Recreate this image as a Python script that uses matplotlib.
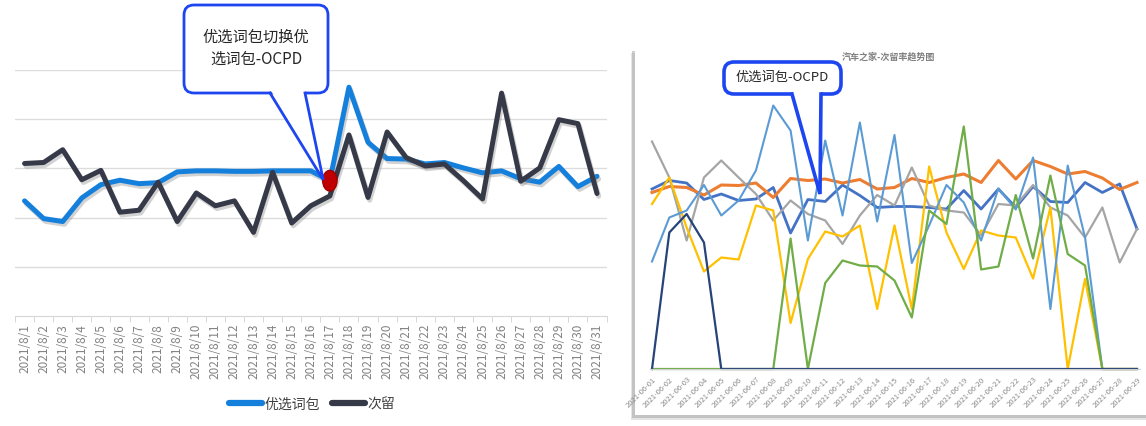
import matplotlib
matplotlib.use("Agg")
import matplotlib.pyplot as plt
from matplotlib.patches import FancyBboxPatch, Polygon, Ellipse, Rectangle
import matplotlib.patheffects as pe

plt.rcParams['font.family'] = ['Noto Sans CJK SC', 'DejaVu Sans']

# ---------------- data: left chart ----------------
left_dates = [f"2021/8/{d}" for d in range(1, 32)]
youxuan = [2.34, 1.98, 1.92, 2.40, 2.67, 2.76, 2.69, 2.71, 2.93, 2.95, 2.95, 2.94, 2.94,
           2.95, 2.95, 2.95, 2.75, 4.65, 3.53, 3.20, 3.19, 3.09, 3.12, 3.01, 2.91, 2.95,
           2.79, 2.72, 3.04, 2.63, 2.84]
ciliu = [3.10, 3.12, 3.38, 2.77, 2.96, 2.11, 2.15, 2.72, 1.92, 2.50, 2.24, 2.34, 1.70,
         2.92, 1.89, 2.24, 2.44, 3.68, 2.41, 3.74, 3.22, 3.05, 3.09, 2.75, 2.38, 4.53,
         2.74, 3.01, 3.99, 3.91, 2.49]
left_names = ["优选词包", "次留"]
switch_day = 16

# ---------------- data: right chart ----------------
right_dates = [f"2021-06-{d:02d}" for d in range(1, 30)]
s_blue = [36.0, 37.7, 37.2, 33.9, 35.0, 33.7, 34.0, 36.3, 27.2, 33.9, 33.5, 36.8, 34.7, 32.3,
          32.5, 32.5, 32.3, 32.0, 35.7, 32.0, 36.0, 32.3, 36.5, 33.5, 33.3, 37.3, 35.3, 37.0, 28.0]
s_orange = [35.3, 36.5, 36.3, 34.8, 36.8, 36.7, 37.2, 34.3, 38.1, 37.7, 38.0, 37.2, 37.9, 36.0,
            36.3, 38.1, 37.3, 38.3, 39.0, 37.3, 41.7, 38.0, 41.7, 40.5, 39.0, 39.5, 38.2, 35.9, 37.3]
s_gray = [45.5, 38.3, 25.7, 38.3, 41.7, 38.3, 35.0, 29.7, 33.7, 31.0, 29.7, 25.0, 30.7, 34.8,
          32.7, 40.3, 32.7, 31.7, 31.3, 26.7, 33.0, 32.7, 36.8, 32.3, 30.7, 26.3, 32.3, 21.3, 28.0]
s_yellow = [33.0, 38.3, 28.3, 19.5, 22.3, 21.9, 32.7, 31.7, 9.2, 22.0, 27.5, 26.5, 28.7, 12.0,
            28.7, 12.0, 40.5, 27.3, 20.0, 27.7, 26.7, 26.3, 18.1, 32.3, 0.0, 18.0, 0.0, 0.0, 0.0]
s_lightblue = [21.5, 30.3, 31.7, 36.8, 30.7, 33.7, 39.7, 52.7, 47.7, 25.7, 45.7, 30.7, 49.3, 29.5,
               46.8, 21.2, 28.7, 36.8, 33.3, 25.7, 36.1, 31.9, 42.3, 12.0, 40.7, 26.3, 0.0, 0.0, 0.0]
s_green = [0, 0, 0, 0, 0, 0, 0, 0, 26.1, 0, 17.2, 21.7, 20.7, 20.5, 17.7, 10.3, 31.7, 29.0,
           48.5, 19.9, 20.5, 34.8, 22.1, 38.7, 23.0, 20.7, 0, 0, 0]
s_navy = [0, 27.3, 31.0, 25.3] + [0] * 25

W, H = 1146, 427
fig = plt.figure(figsize=(W / 100, H / 100), dpi=100)
fig.patch.set_facecolor('white')


def fr(x0, y_top, x1, y_bot):
    return [x0 / W, 1 - y_bot / H, (x1 - x0) / W, (y_bot - y_top) / H]


# background overlay (panel of right chart with soft shadow on left and bottom)
ov_bg = fig.add_axes([0, 0, 1, 1], zorder=0)
ov_bg.set_xlim(0, W); ov_bg.set_ylim(H, 0); ov_bg.axis('off')
ov_bg.add_patch(Rectangle((630.5, 54), 520, 367, facecolor='#C4C4C4', edgecolor='none', alpha=0.45))
ov_bg.add_patch(Rectangle((631.5, 52), 520, 367, facecolor='#A8A8A8', edgecolor='none', alpha=0.55))
ov_bg.add_patch(Rectangle((634.5, 44), 520, 372, facecolor='white', edgecolor='none'))

# ---------------- left chart ----------------
dx = (597 - 24) / 30
ax1 = fig.add_axes(fr(24 - 0.47 * dx, 71, 597 + 0.52 * dx, 317), zorder=2)
ax1.set_facecolor('none')
xs = list(range(len(left_dates)))
shadow = [pe.SimpleLineShadow(offset=(1.2, -2.0), shadow_color='#808080', alpha=0.35), pe.Normal()]
ax1.plot(xs, youxuan, color='#1480DC', lw=3.6, solid_joinstyle='round', solid_capstyle='round',
         label=left_names[0], path_effects=shadow, zorder=3)
ax1.plot(xs, ciliu, color='#363A48', lw=3.6, solid_joinstyle='round', solid_capstyle='round',
         label=left_names[1], path_effects=shadow, zorder=4)
ax1.set_xlim(-0.47, 30.52)
ax1.set_ylim(0, 5)
ax1.set_yticks([1, 2, 3, 4, 5])
ax1.yaxis.grid(True, color='#DCDCDC', lw=1)
ax1.tick_params(axis='y', length=0, labelleft=False)
ax1.set_xticks(xs)
ax1.set_xticklabels(left_dates, rotation=90, fontsize=8.5, color='#828282')
ax1.set_xticks([i + 0.5 for i in range(-1, 31)], minor=True)
ax1.tick_params(axis='x', which='major', length=0, pad=5)
ax1.tick_params(axis='x', which='minor', length=4, color='#D0D0D0')
for s in ['top', 'right', 'left']:
    ax1.spines[s].set_visible(False)
ax1.spines['bottom'].set_color('#D6D6D6')
ax1.set_axisbelow(True)
# red marker at the switch day
ax1.add_patch(Ellipse((switch_day, youxuan[switch_day]), width=0.75, height=0.42,
                      facecolor='#C00000', edgecolor='#A00000', zorder=6))
leg = ax1.legend(loc='center', bbox_to_anchor=(312 / W, 1 - 405 / H), bbox_transform=fig.transFigure,
                 ncol=2, frameon=False, fontsize=10, handlelength=2.4, handletextpad=0.15,
                 columnspacing=0.9)
for t in leg.get_texts():
    t.set_color('#404040')
for l in leg.get_lines():
    l.set_linewidth(4.5)
    l.set_solid_capstyle('round')
    l.set_path_effects([])

# ---------------- right chart ----------------
rdx = (1137 - 652) / 28
ax2 = fig.add_axes(fr(652 - 0.1 * rdx, 95, 1137 + 0.15 * rdx, 370), zorder=2)
ax2.set_facecolor('none')
rxs = list(range(len(right_dates)))
series = [
    (s_blue, '#4472C4', 2.0),
    (s_orange, '#ED7D31', 2.2),
    (s_gray, '#A5A5A5', 1.6),
    (s_yellow, '#FFC000', 1.6),
    (s_lightblue, '#5B9BD5', 1.5),
    (s_green, '#70AD47', 1.6),
    (s_navy, '#264478', 1.6),
]
for vals, col, lw in series:
    ax2.plot(rxs, vals, color=col, lw=lw, clip_on=False, solid_joinstyle='round')
ax2.set_xlim(-0.1, 28.15)
ax2.set_ylim(0, 55)
ax2.set_yticks([])
ax2.set_xticks(rxs)
ax2.set_xticklabels(right_dates, rotation=45, ha='right', rotation_mode='anchor',
                    fontsize=5.5, color='#8C8C8C')
ax2.tick_params(axis='x', length=0, pad=4)
for s in ['top', 'right', 'left']:
    ax2.spines[s].set_visible(False)
ax2.spines['bottom'].set_color('#D0D0D0')
fig.text(888 / W, 1 - 57 / H, "汽车之家-次留率趋势图", fontsize=6.5, color='#808080',
         ha='center', va='center', weight='bold')

# ---------------- callouts (top overlay) ----------------
ov = fig.add_axes([0, 0, 1, 1], zorder=10)
ov.set_xlim(0, W); ov.set_ylim(H, 0); ov.axis('off'); ov.set_facecolor('none')


def to_ov(ax, p):
    d = ax.transData.transform(p)
    return ov.transData.inverted().transform(d)


def callout(box, base, tip, text, fs, lw, color='#1E46F0'):
    bx0, by0, bx1, by1 = box
    ov.add_patch(FancyBboxPatch((bx0, by0), bx1 - bx0, by1 - by0,
                                boxstyle="round,pad=0,rounding_size=10",
                                facecolor='white', edgecolor=color, lw=lw, zorder=1))
    bl, br = base
    ov.add_patch(Polygon([(bl, by1 - 4), (br, by1 - 4), tuple(tip)], closed=True,
                         facecolor='white', edgecolor='none', zorder=2))
    ov.plot([bl, tip[0], br], [by1, tip[1], by1], color=color, lw=lw, zorder=3,
            solid_joinstyle='miter')
    ov.text((bx0 + bx1) / 2, (by0 + by1) / 2 - 2, text, ha='center', va='center',
            fontsize=fs, color='#262626', linespacing=1.35, zorder=4)


tip1 = to_ov(ax1, (switch_day - 0.35, youxuan[switch_day] + 0.02))
callout((184, 6, 328, 94), (270, 305), tip1, "优选词包切换优\n选词包-OCPD", 11, 2.0)
tip2 = to_ov(ax2, (9.7, 35.0))
callout((724, 63, 841, 95), (792, 821), tip2, "优选词包-OCPD", 9.5, 2.6)

fig.savefig("out.png", dpi=100, facecolor='white')
